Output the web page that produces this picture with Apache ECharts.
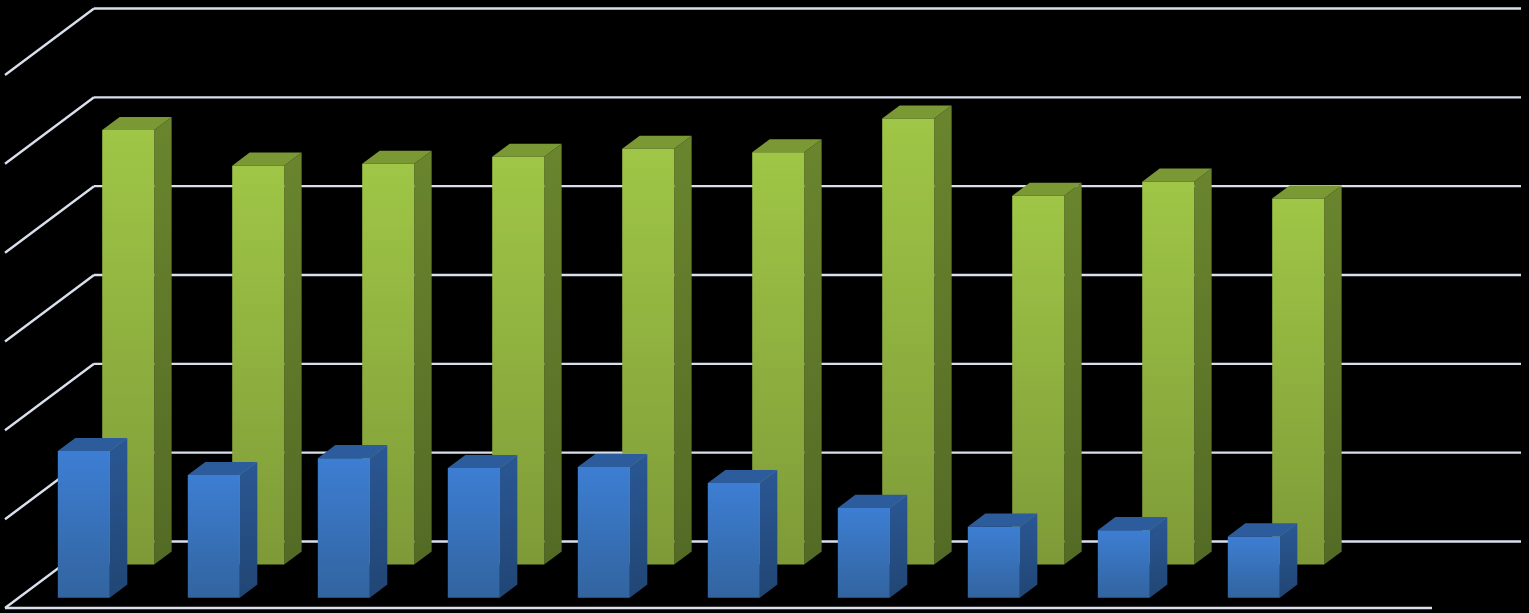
<!DOCTYPE html>
<html>
<head>
<meta charset="utf-8">
<style>html,body{margin:0;padding:0;background:#000}#c{width:1529px;height:613px}</style>
<script src="https://cdn.jsdelivr.net/npm/echarts@6/dist/echarts.min.js"></script>
</head>
<body>
<div id="c"></div>
<script>
const categories = ['1','2','3','4','5','6','7','8','9','10',''];
const backValues = [48.9,44.9,45.1,45.9,46.8,46.4,50.2,41.5,43.1,41.2];
const frontValues = [16.5,13.8,15.7,14.6,14.7,12.9,10.1,8.0,7.6,6.9];
const tickValues = [0,10,20,30,40,50,60];

const DX = 89, DY = 66.5;      // floor depth projection
const BAR_W = 0.4;             // share of a category band
const WALL_SHORT = 3;          // back wall ends slightly before the last band edge

function shift(p, d){ return [p[0] - (1-d)*DX, p[1] + (1-d)*DY]; }
function grad(a,b){ return {type:'linear',x:0,y:0,x2:0,y2:1,colorStops:[{offset:0,color:a},{offset:1,color:b}]}; }

function barRenderer(d0, d1, c){
  return function(params, api){
    const i = api.value(0), v = api.value(1);
    const bw = api.size([1,0])[0];
    const t = api.coord([i,v]), b = api.coord([i,0]);
    const hw = bw*BAR_W/2;
    const L = x=>[x[0]-hw,x[1]], R = x=>[x[0]+hw,x[1]];
    const tlF=shift(L(t),d0), trF=shift(R(t),d0), blF=shift(L(b),d0), brF=shift(R(b),d0);
    const tlB=shift(L(t),d1), trB=shift(R(t),d1), brB=shift(R(b),d1);
    const poly=(pts,fill)=>({type:'polygon',shape:{points:pts},style:{fill:fill,stroke:null}});
    return {type:'group',children:[
      poly([trF,trB,brB,brF],grad(c.side[0],c.side[1])),
      poly([tlF,tlB,trB,trF],c.top),
      poly([tlF,trF,brF,blF],grad(c.front[0],c.front[1]))
    ]};
  };
}
function wallRenderer(params, api){
  const v = api.value(1);
  const bw = api.size([1,0])[0];
  const p = api.coord([0,v]);
  const e = api.coord([categories.length-1,v]);
  const back = [p[0]-bw/2,p[1]];
  const end = [e[0]+bw/2-WALL_SHORT,e[1]];
  const front = shift(back,0);
  const st = {stroke:LINE,lineWidth:2.4,fill:null};
  const kids = [
    {type:'line',shape:{x1:front[0],y1:front[1],x2:back[0],y2:back[1]},style:st},
    {type:'line',shape:{x1:back[0],y1:back[1],x2:end[0],y2:end[1]},style:st}
  ];
  if (v===0){
    const fe = shift(end,0);
    kids.push({type:'line',shape:{x1:front[0],y1:front[1],x2:fe[0],y2:fe[1]},style:st});
  }
  return {type:'group',children:kids};
}
const LINE = '#d9dfed';
const GREEN = {front:['#9fc646','#7e9a38'],side:['#6a852e','#536a25'],top:'#7a9934'};
const BLUE  = {front:['#3d7ed3','#32649f'],side:['#2a5794','#214674'],top:'#2c5c9c'};

const chart = echarts.init(document.getElementById('c'),null,{renderer:'canvas'});
chart.setOption({
  animation:false,
  backgroundColor:'#000',
  grid:{left:94,top:8.5,width:1430,height:533,containLabel:false},
  xAxis:{type:'category',data:categories,axisLine:{show:false},axisTick:{show:false},axisLabel:{show:false},splitLine:{show:false}},
  yAxis:{type:'value',min:0,max:60,interval:10,axisLine:{show:false},axisTick:{show:false},axisLabel:{show:false},splitLine:{show:false}},
  series:[
    {type:'custom',z:1,renderItem:wallRenderer,data:tickValues.map(v=>[0,v]),encode:{x:0,y:1},silent:true},
    {type:'custom',z:2,name:'Back',renderItem:barRenderer(0.654,0.85,GREEN),data:backValues.map((v,i)=>[i,v]),encode:{x:0,y:1}},
    {type:'custom',z:3,name:'Front',renderItem:barRenderer(0.155,0.352,BLUE),data:frontValues.map((v,i)=>[i,v]),encode:{x:0,y:1}}
  ]
});
</script>
</body>
</html>
